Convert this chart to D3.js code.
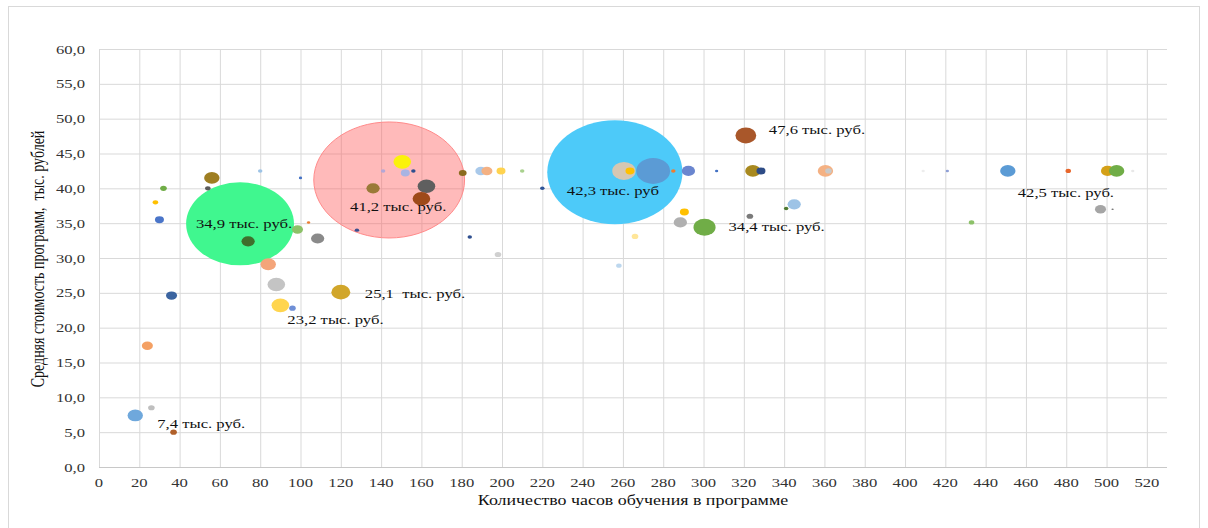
<!DOCTYPE html>
<html><head><meta charset="utf-8">
<script src="https://cdn.jsdelivr.net/npm/d3@7"></script>
<style>body{margin:0;background:#fff}svg{display:block}text{white-space:pre}</style>
</head><body><svg id="c" width="1208" height="528"></svg>
<script>
// ---- data ----
const xTicks = d3.range(0, 521, 20);
const yTicks = d3.range(0, 61, 5);
const xTitle = "Количество часов обучения в программе";
const yTitle = "Средняя стоимость программ,  тыс. рублей";

// large (group) bubbles
const bigHours = [70, 144, 256];
const bigCost = [34.9, 41.2, 42.3];
const bigSizes = [1722, 3364, 2704];
const bigFills = ["#40f78f", "rgba(255,90,90,0.42)", "#4dcaf9"];
const bigStrokes = ["none", "#ff8a8a", "none"];

// individual program bubbles
const hours = [18, 26, 37, 24, 36, 30, 28, 32, 54, 56, 80, 100, 74, 98.5, 104, 108.5, 84, 88, 90, 96,
  120, 150.5, 152, 141, 156, 136, 162.5, 160, 180.5, 189.5, 192.5, 199.5, 210, 128, 184, 198, 220,
  260.5, 263.5, 275, 285, 292.5, 306.5, 321, 324.5, 328.5, 360.5, 362, 290.5, 288.5, 300.5, 323, 345, 341,
  266, 258, 409, 421, 451, 481, 500.5, 505, 513, 497, 503, 433];
const cost = [7.4, 8.5, 5.0, 17.4, 24.6, 35.5, 38.0, 40.0, 40.0, 41.5, 42.5, 41.5, 32.4, 34.1, 35.1, 32.8, 29.1, 26.2, 23.2, 22.8,
  25.1, 43.8, 42.2, 42.5, 42.5, 40.0, 40.3, 38.5, 42.2, 42.5, 42.5, 42.5, 42.5, 34.0, 33.0, 30.5, 40.0,
  42.5, 42.5, 42.5, 42.5, 42.5, 42.5, 47.6, 42.5, 42.5, 42.5, 42.5, 36.6, 35.1, 34.4, 36.0, 37.7, 37.1,
  33.1, 28.9, 42.5, 42.5, 42.5, 42.5, 42.5, 42.5, 42.5, 37.0, 37.0, 35.1];
const sizes = [35, 6.5, 6.5, 18, 18, 12, 4.5, 6.5, 4.5, 35, 3, 1.6, 26, 18, 1.6, 26, 35, 46, 46, 6.5,
  53, 46, 12, 3, 3, 26, 46, 46, 9, 18, 18, 12, 3, 3, 3, 6.5, 3,
  81, 12, 169, 3, 26, 1.6, 64, 35, 12, 35, 6.5, 12, 26, 72, 6.5, 26, 3,
  6.5, 4.5, 1.6, 1.6, 35, 4.5, 26, 35, 1.6, 18, 0.7, 4.5];
const colors = ["#6fa8dc", "#bfbfbf", "#b0602a", "#f4a063", "#3b64a0", "#4a75c9", "#ffc000", "#70ad47", "#5a5a5a", "#9e7e22",
  "#9dc3e6", "#4472c4", "#3f6f2c", "#8cc168", "#ed7d31", "#8a8a8a", "#f4a57a", "#c4c4c4", "#ffd54f", "#6f8fd6",
  "#d1a62a", "#fbf20a", "#a9b4e3", "#b4a7d6", "#2f4f8f", "#9a7a38", "#5f5f5f", "#9e4a1a", "#8b6b1e", "#a9c9ea",
  "#f4b183", "#ffd34f", "#a9d18e", "#3b4f8f", "#2f4f8f", "#d0d0d0", "#2f5597",
  "#d5c7b3", "#ffc000", "#5b9bd5", "#ed7d31", "#6a86cf", "#4472c4", "#a9572a", "#a8891f", "#2e4c86", "#f4b183", "#c9c9c9",
  "#ffc000", "#b0b0b0", "#70ad47", "#7a7a7a", "#9dc3e6", "#4e7a33",
  "#ffe699", "#bdd7ee", "#ededed", "#8e9fd6", "#5b9bd5", "#e8662a", "#d4a017", "#70ad47", "#e8e8e8", "#a5a5a5", "#7a7a7a", "#8cc168"];

// annotations (text + the bubble they refer to)
const labelTexts = ["7,4 тыс. руб.", "23,2 тыс. руб.", "25,1  тыс. руб.", "34,9 тыс. руб.", "41,2 тыс. руб.",
  "42,3 тыс. руб", "47,6 тыс. руб.", "34,4 тыс. руб.", "42,5 тыс. руб."];
const labelHours = [18, 90, 120, 70, 144, 256, 321, 300.5, 451];
const labelCost = [7.4, 23.2, 25.1, 34.9, 41.2, 42.3, 47.6, 34.4, 42.5];

// ---- layout / style ----
const labelOffsets = [[22, 13, "start"], [7, 19, "start"], [24, 6, "start"], [4, 4, "middle"], [9, 31, "middle"],
  [-2, 23, "middle"], [23, -1, "start"], [24, 4, "start"], [10, 26, "start"]];
const SX = 1.28; // horizontal stretch of the reference's text
const font = "'Liberation Serif','Times New Roman',serif";

const svg = d3.select("#c");
const x = d3.scaleLinear().domain([0, 530]).range([99, 1167]);
const y = d3.scaleLinear().domain([0, 60]).range([467, 49]);
const r = d3.scaleSqrt().domain([0, 3364]).range([0, 58]);
const ASPECT = 1.3;

svg.append("rect").attr("x", 8.5).attr("y", 6.5).attr("width", 1191).attr("height", 540)
  .attr("fill", "#fff").attr("stroke", "#d9d9d9");

// grid
const gx = svg.append("g").attr("transform", `translate(0,${y(0)})`)
  .call(d3.axisBottom(x).tickValues(xTicks).tickSize(-(y(0) - y(60))).tickFormat(""));
const gy = svg.append("g").attr("transform", `translate(${x(0)},0)`)
  .call(d3.axisLeft(y).tickValues(yTicks).tickSize(-(x(530) - x(0))).tickFormat(""));
[gx, gy].forEach(g => { g.select(".domain").remove(); g.selectAll("line").attr("stroke", "#d9d9d9"); });
svg.append("line").attr("x1", x(0)).attr("x2", x(530)).attr("y1", y(0) + 0.5).attr("y2", y(0) + 0.5).attr("stroke", "#c8c8c8");

// tick labels
const fmtY = d => d3.format(".1f")(d).replace(".", ",");
const txt = (g, s, tx, ty, anchor, size, fill) => g.append("text").text(s)
  .attr("transform", `translate(${tx},${ty}) scale(${SX},1)`)
  .attr("text-anchor", anchor).attr("font-family", font).attr("font-size", size).attr("fill", fill);

const tl = svg.append("g");
xTicks.forEach(v => txt(tl, String(v), x(v), 487, "middle", 13, "#333"));
yTicks.forEach(v => txt(tl, fmtY(v), 85, y(v) + 4.5, "end", 13, "#333"));

// axis titles
txt(svg, xTitle, 633, 505, "middle", 14, "#111");
svg.append("text").text(yTitle)
  .attr("transform", `translate(44,259) scale(${SX},1) rotate(-90)`)
  .attr("text-anchor", "middle").attr("font-family", font).attr("font-size", 14).attr("fill", "#111");

// big bubbles
const bigData = bigHours.map((h, i) => ({ h, c: bigCost[i], s: bigSizes[i], f: bigFills[i], st: bigStrokes[i] }));
svg.append("g").selectAll("ellipse").data(bigData).join("ellipse")
  .attr("cx", d => x(d.h)).attr("cy", d => y(d.c))
  .attr("rx", d => r(d.s) * ASPECT).attr("ry", d => r(d.s))
  .attr("fill", d => d.f).attr("stroke", d => d.st);

// small bubbles
const data = hours.map((h, i) => ({ h, c: cost[i], s: sizes[i], col: colors[i] }));
svg.append("g").selectAll("ellipse").data(data).join("ellipse")
  .attr("cx", d => x(d.h)).attr("cy", d => y(d.c))
  .attr("rx", d => r(d.s) * ASPECT).attr("ry", d => r(d.s))
  .attr("fill", d => d.col);

// annotations
const lg = svg.append("g");
labelTexts.forEach((t, i) => {
  const [dx, dy, a] = labelOffsets[i];
  txt(lg, t, x(labelHours[i]) + dx, y(labelCost[i]) + dy, a, 13, "#111");
});
</script></body></html>
